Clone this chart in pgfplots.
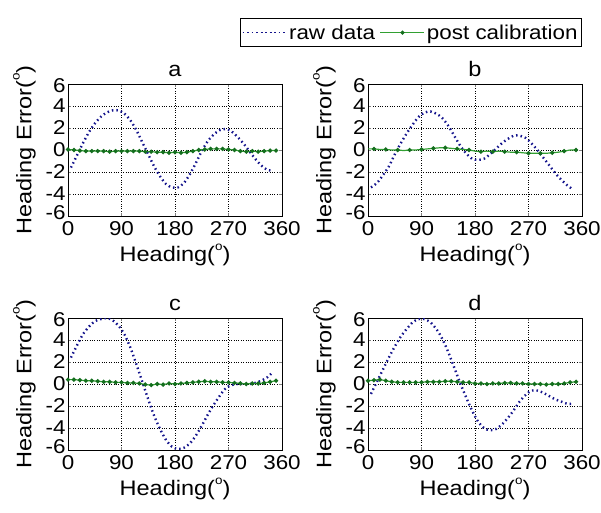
\documentclass[border=0pt]{standalone}
\usepackage{fontspec}
\setmainfont{Liberation Sans}[FakeStretch=1.12]
\usepackage{pgfplots}
\pgfplotsset{compat=1.18}

\definecolor{rawblue}{RGB}{20,20,140}
\definecolor{postgreen}{RGB}{50,160,50}
\definecolor{markgreen}{RGB}{20,110,30}

\newcommand{\degsup}{\raisebox{1.05ex}{\fontsize{12}{12}\selectfont o}}

\pgfplotsset{
  panel/.style={
    scale only axis, width=214pt, height=132pt,
    xmin=0, xmax=360, ymin=-6, ymax=6,
    xtick={0,90,180,270,360}, ytick={-6,-4,...,6},
    yticklabels={\raisebox{3pt}[\height][\depth]{-6},-4,-2,0,2,4,\raisebox{-2pt}[\height][\depth]{6}},
    grid=major, grid style={dotted, black, line width=0.7pt},
    tick align=inside, major tick length=3pt,
    axis line style={line width=0.7pt},
    /pgf/number format/assume math mode=true,
    ticklabel style={font=\fontsize{20}{22}\selectfont},
    xticklabel style={yshift=-2pt},
    yticklabel style={xshift=1pt},
    label style={font=\fontsize{21}{23}\selectfont},
    title style={font=\fontsize{21}{23}\selectfont, yshift=-2pt},
    xlabel={Heading(\degsup)},
    ylabel={Heading Error(\degsup)},
    xlabel style={yshift=-1pt},
    ylabel style={yshift=3pt},
  },
  raw/.style={rawblue, line width=2.4pt, dash pattern=on 1.5pt off 3pt, smooth, no markers},
  post/.style={postgreen, line width=1.2pt, mark=*, mark size=1.5pt,
    mark options={fill=markgreen, draw=markgreen, solid}},
}

\begin{document}
\begin{tikzpicture}
\path[use as bounding box] (0,0) rectangle (601pt,512pt);

% ---- a
\begin{axis}[panel, at={(68pt,296pt)}, anchor=south west, title={a}]
\addplot[raw] coordinates {
(5,-1.6)(15,-0.5)(25,0.6)(35,1.6)(45,2.4)(55,3.0)(65,3.4)(75,3.6)(85,3.6)
(95,3.3)(105,2.7)(115,1.8)(125,0.7)(135,-0.4)(145,-1.5)(155,-2.4)(165,-3.1)
(175,-3.4)(185,-3.4)(195,-3.0)(205,-2.2)(215,-1.2)(225,-0.1)(235,0.8)(245,1.4)
(255,1.8)(265,1.9)(275,1.7)(285,1.2)(295,0.6)(305,-0.1)(315,-0.8)(325,-1.4)
(335,-1.8)(345,-1.9)};
\addplot[post] coordinates {
(0,0.05)(10,0.0)(20,-0.05)(30,-0.1)(40,-0.1)(50,-0.1)(60,-0.1)(70,-0.15)(80,-0.1)
(90,-0.1)(100,-0.1)(110,-0.1)(120,-0.1)(130,-0.15)(140,-0.15)(150,-0.2)(160,-0.2)
(170,-0.25)(180,-0.2)(190,-0.25)(200,-0.2)(210,-0.1)(220,0.0)(230,0.05)(240,0.1)
(250,0.1)(260,0.1)(270,0.05)(280,0.0)(290,-0.1)(300,-0.15)(310,-0.1)(320,-0.15)
(330,-0.1)(340,-0.05)(350,-0.05)};
\end{axis}

% ---- b
\begin{axis}[panel, at={(368pt,296pt)}, anchor=south west, title={b},
  legend columns=2,
  legend style={at={(axis description cs:1,1)}, anchor=south east, yshift=37pt,
    draw=black, line width=0.7pt, font=\fontsize{20}{22}\selectfont,
    inner xsep=2pt, inner ysep=4pt, /tikz/every even column/.append style={column sep=3pt}},
  legend image code/.code={\draw[#1] plot coordinates {(0pt,0pt) (22pt,0pt) (44pt,0pt)};},
  legend image post style={line width=1pt}]
\addplot[raw] coordinates {
(5,-3.4)(15,-3.0)(25,-2.3)(35,-1.5)(45,-0.4)(55,0.6)(65,1.5)(75,2.3)(85,3.0)
(95,3.4)(105,3.5)(115,3.3)(125,2.9)(135,2.2)(145,1.3)(155,0.4)(165,-0.3)
(175,-0.8)(185,-0.9)(195,-0.8)(205,-0.4)(215,0.1)(225,0.6)(235,1.0)(245,1.3)
(255,1.3)(265,1.1)(275,0.6)(285,0.0)(295,-0.7)(305,-1.4)(315,-2.1)(325,-2.7)
(335,-3.2)(345,-3.6)};
\addlegendentry{raw data}
\addplot[post, mark repeat=2, mark phase=2] coordinates {
(0,0.1)(10,0.1)(20,0.05)(30,0.05)(40,0.0)(50,0.0)(60,-0.05)(70,0.0)(80,0.0)
(90,0.05)(100,0.1)(110,0.15)(120,0.2)(130,0.2)(140,0.15)(150,0.1)(160,0.05)
(170,0.0)(180,-0.1)(190,-0.15)(200,-0.1)(210,-0.15)(220,-0.1)(230,-0.15)(240,-0.2)
(250,-0.2)(260,-0.25)(270,-0.3)(280,-0.3)(290,-0.3)(300,-0.3)(310,-0.25)(320,-0.2)
(330,-0.1)(340,0.0)(350,0.0)};
\addlegendentry{post calibration}
\end{axis}

% ---- c
\begin{axis}[panel, at={(68pt,62pt)}, anchor=south west, title={c}]
\addplot[raw] coordinates {
(5,2.4)(15,3.5)(25,4.5)(35,5.2)(45,5.7)(55,5.9)(65,6.0)(75,5.8)(85,5.3)
(95,4.5)(105,3.3)(115,1.8)(125,0.2)(135,-1.4)(145,-2.9)(155,-4.1)(165,-5.1)
(175,-5.7)(185,-5.9)(195,-5.8)(205,-5.4)(215,-4.7)(225,-3.8)(235,-2.8)(245,-1.9)
(255,-1.1)(265,-0.4)(275,-0.1)(285,0.0)(295,0.0)(305,0.0)(315,0.1)(325,0.3)
(335,0.6)(345,1.1)};
\addplot[post] coordinates {
(0,0.4)(10,0.4)(20,0.35)(30,0.3)(40,0.3)(50,0.25)(60,0.2)(70,0.2)(80,0.15)
(90,0.15)(100,0.1)(110,0.1)(120,0.05)(130,-0.05)(140,-0.1)(150,0.0)(160,-0.05)
(170,0.05)(180,0.0)(190,0.05)(200,0.1)(210,0.15)(220,0.2)(230,0.25)(240,0.2)
(250,0.2)(260,0.15)(270,0.15)(280,0.1)(290,0.05)(300,0.0)(310,0.05)(320,0.05)
(330,0.1)(340,0.2)(350,0.3)};
\end{axis}

% ---- d
\begin{axis}[panel, at={(368pt,62pt)}, anchor=south west, title={d}]
\addplot[raw] coordinates {
(5,-0.9)(15,0.2)(25,1.3)(35,2.4)(45,3.4)(55,4.3)(65,5.0)(75,5.6)(85,5.9)
(95,5.9)(105,5.6)(115,5.0)(125,4.1)(135,2.9)(145,1.5)(155,0.1)(165,-1.2)
(175,-2.4)(185,-3.4)(195,-4.0)(205,-4.2)(215,-4.1)(225,-3.7)(235,-3.1)(245,-2.4)
(255,-1.6)(265,-1.0)(275,-0.6)(285,-0.6)(295,-0.8)(305,-1.1)(315,-1.4)(325,-1.6)
(335,-1.8)(345,-1.8)};
\addplot[post] coordinates {
(0,0.3)(10,0.35)(20,0.4)(30,0.3)(40,0.2)(50,0.15)(60,0.15)(70,0.15)(80,0.15)
(90,0.15)(100,0.2)(110,0.2)(120,0.2)(130,0.25)(140,0.25)(150,0.2)(160,0.15)
(170,0.15)(180,0.05)(190,0.05)(200,0.0)(210,0.05)(220,0.05)(230,0.1)(240,0.1)
(250,0.05)(260,0.05)(270,0.0)(280,0.0)(290,0.0)(300,-0.05)(310,0.0)(320,0.0)
(330,0.05)(340,0.15)(350,0.2)};
\end{axis}
\end{tikzpicture}
\end{document}
